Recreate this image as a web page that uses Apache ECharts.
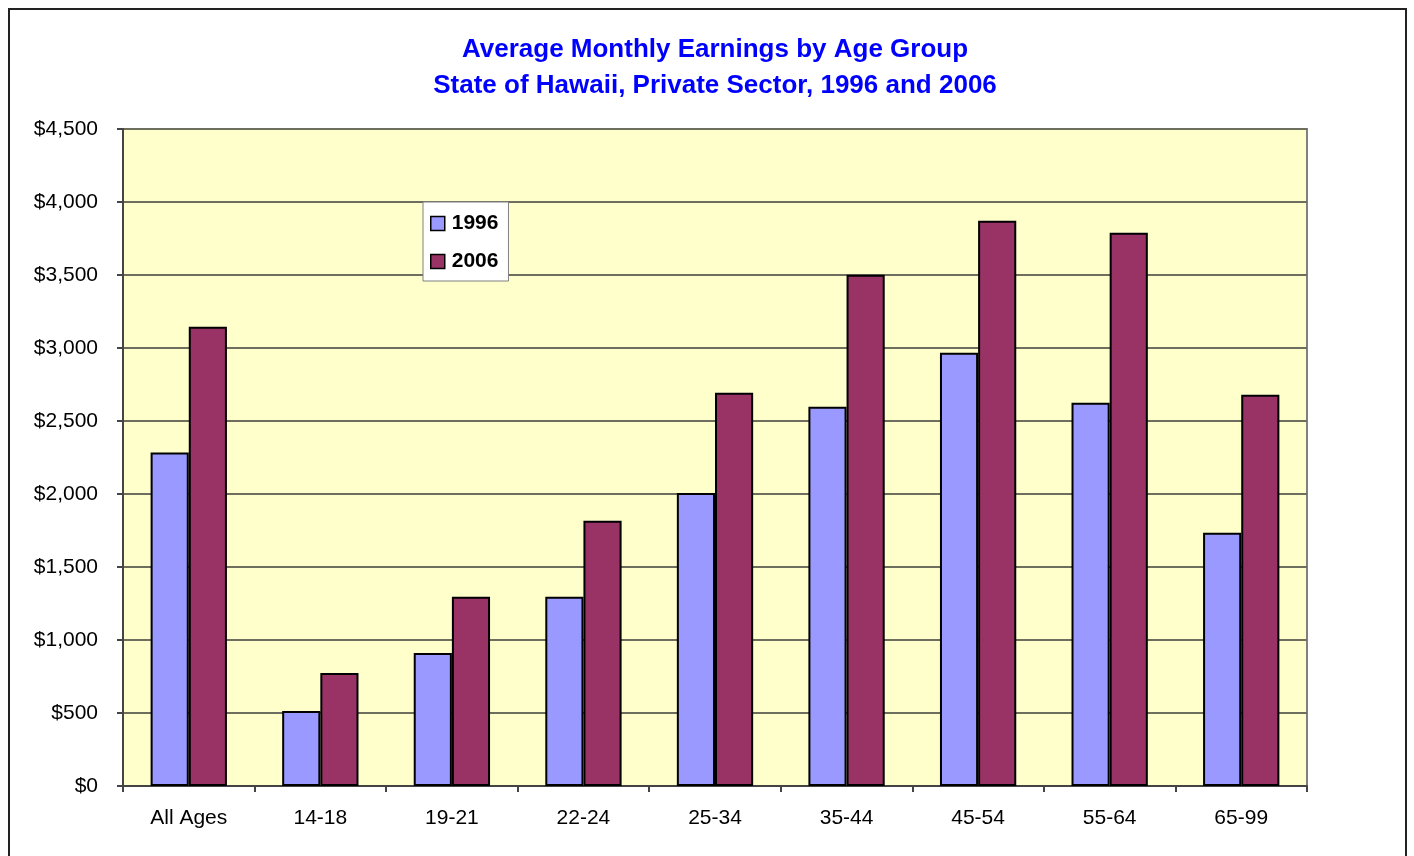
<!DOCTYPE html>
<html>
<head>
<meta charset="utf-8">
<script src="https://cdn.jsdelivr.net/npm/echarts@6/dist/echarts.min.js"></script>
<style>
body {
  margin: 0;
  background-color: #ffffff;
}
#frame {
  position: absolute;
  left: 8px;
  top: 8px;
  width: 1399px;
  height: 900px;
  border: 2px solid #222222;
  box-sizing: border-box;
}
#main {
  position: absolute;
  left: 0;
  top: 0;
  width: 1414px;
  height: 856px;
}
</style>
</head>
<body>
<div id="frame"></div>
<div id="main"></div>
<script>
// 年龄组
var categories = ["All Ages", "14-18", "19-21", "22-24", "25-34", "35-44", "45-54", "55-64", "65-99"];
var earnings1996 = [2284, 514, 911, 1297, 2007, 2598, 2968, 2625, 1735];
var earnings2006 = [3146, 774, 1297, 1817, 2694, 3502, 3872, 3790, 2680];
var yTicks = [0, 500, 1000, 1500, 2000, 2500, 3000, 3500, 4000, 4500];

var chart = echarts.init(document.getElementById("main"));
chart.setOption({
  animation: false,
  textStyle: {
    fontFamily: "Liberation Sans, Arial, sans-serif"
  },
  title: {
    text: "Average Monthly Earnings by Age Group\nState of Hawaii, Private Sector, 1996 and 2006",
    left: 710,
    textAlign: "center",
    top: 27,
    textStyle: {
      color: "#0000ff",
      fontSize: 26,
      fontWeight: "bold",
      lineHeight: 36
    }
  },
  legend: {
    orient: "vertical",
    left: 423,
    top: 202,
    padding: [11, 10, 9, 7],
    itemGap: 17,
    itemWidth: 14,
    itemHeight: 14,
    icon: "rect",
    backgroundColor: "#ffffff",
    borderColor: "#808080",
    borderWidth: 1,
    borderRadius: 0,
    itemStyle: {
      borderColor: "#000000",
      borderWidth: 1.5
    },
    textStyle: {
      fontSize: 21,
      fontWeight: "bold",
      color: "#000000",
      padding: [0, 0, 0, 2]
    },
    data: ["1996", "2006"]
  },
  grid: {
    left: 123,
    right: 107,
    top: 129,
    bottom: 70,
    show: true,
    backgroundColor: "#ffffcc",
    borderColor: "#808080",
    borderWidth: 2
  },
  xAxis: {
    type: "category",
    data: categories,
    axisLine: { lineStyle: { color: "#444444", width: 2 } },
    axisTick: { show: true, length: 6, lineStyle: { color: "#444444", width: 2 } },
    axisLabel: { fontSize: 21, color: "#000000", margin: 22 }
  },
  yAxis: {
    type: "value",
    min: yTicks[0],
    max: yTicks[yTicks.length - 1],
    interval: 500,
    axisLine: { show: true, lineStyle: { color: "#444444", width: 2 } },
    axisTick: { show: true, length: 6, lineStyle: { color: "#444444", width: 2 } },
    axisLabel: {
      fontSize: 21,
      color: "#000000",
      margin: 25,
      formatter: function (v) {
        return "$" + v.toLocaleString("en-US");
      }
    },
    splitLine: { lineStyle: { color: "#6e6e5e", width: 2 } }
  },
  series: [
    {
      name: "1996",
      type: "bar",
      data: earnings1996,
      barGap: "0%",
      barCategoryGap: "42%",
      itemStyle: { color: "#9999ff", borderColor: "#000000", borderWidth: 2 }
    },
    {
      name: "2006",
      type: "bar",
      data: earnings2006,
      itemStyle: { color: "#993366", borderColor: "#000000", borderWidth: 2 }
    }
  ]
});
</script>
</body>
</html>
